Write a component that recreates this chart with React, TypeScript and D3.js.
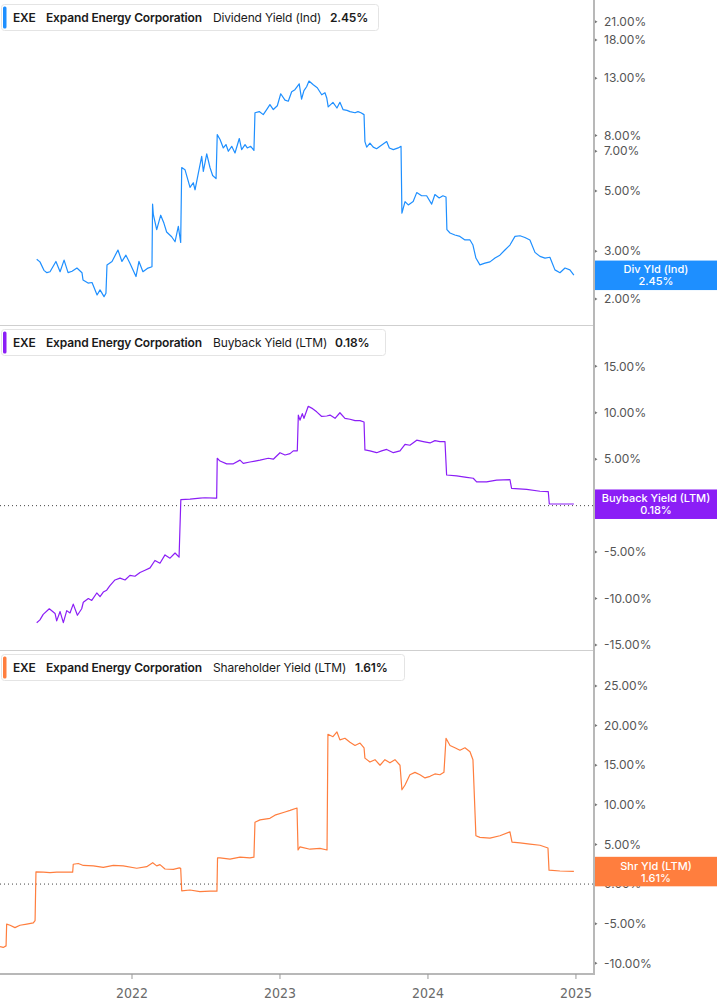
import React from 'react';
import * as d3 from 'd3';

// ---------- data (decimal year, percent) ----------
const yearTicks = [2022, 2023, 2024, 2025];
const divTicks = [2, 3, 5, 7, 8, 13, 18, 21];
const buyTicks = [-15, -10, -5, 0, 5, 10, 15];
const shrTicks = [-10, -5, 0, 5, 10, 15, 20, 25];

const divYield: [number, number][] = [
  [2021.356, 2.8], [2021.378, 2.74], [2021.405, 2.55], [2021.425, 2.5], [2021.446, 2.52],
  [2021.486, 2.75], [2021.514, 2.52], [2021.541, 2.78], [2021.568, 2.5], [2021.595, 2.53],
  [2021.628, 2.6], [2021.662, 2.5], [2021.669, 2.35], [2021.703, 2.29], [2021.73, 2.3],
  [2021.764, 2.07], [2021.784, 2.16], [2021.811, 2.04], [2021.824, 2.1], [2021.831, 2.67],
  [2021.865, 2.75], [2021.905, 3.03], [2021.932, 2.75], [2021.959, 2.9], [2021.986, 2.71],
  [2022.027, 2.42], [2022.047, 2.75], [2022.074, 2.52], [2022.108, 2.6], [2022.135, 2.63],
  [2022.139, 4.47], [2022.144, 4.1], [2022.167, 3.6], [2022.194, 4.07], [2022.216, 3.8],
  [2022.234, 3.53], [2022.268, 3.39], [2022.291, 3.25], [2022.313, 3.7], [2022.329, 3.23],
  [2022.336, 6.1], [2022.358, 5.99], [2022.392, 5.15], [2022.414, 5.36], [2022.426, 5.05],
  [2022.448, 5.8], [2022.471, 6.7], [2022.482, 5.9], [2022.505, 6.85], [2022.527, 6.1],
  [2022.545, 5.7], [2022.568, 5.55], [2022.576, 8.06], [2022.595, 7.73], [2022.617, 7.2],
  [2022.635, 7.41], [2022.651, 7.0], [2022.674, 7.3], [2022.696, 6.9], [2022.725, 7.8],
  [2022.741, 7.1], [2022.764, 7.4], [2022.779, 7.2], [2022.802, 7.3], [2022.824, 7.05],
  [2022.831, 9.7], [2022.86, 9.8], [2022.887, 9.55], [2022.91, 9.97], [2022.932, 10.4],
  [2022.955, 9.97], [2022.982, 10.3], [2023.005, 11.4], [2023.034, 10.8], [2023.056, 10.7],
  [2023.079, 11.6], [2023.101, 11.8], [2023.13, 12.4], [2023.146, 10.9], [2023.162, 11.7],
  [2023.18, 12.1], [2023.196, 12.7], [2023.225, 12.3], [2023.252, 12.0], [2023.282, 11.3],
  [2023.304, 11.5], [2023.316, 11.0], [2023.326, 10.2], [2023.358, 10.6], [2023.385, 10.1],
  [2023.405, 10.6], [2023.426, 9.97], [2023.453, 9.9], [2023.473, 9.8], [2023.507, 9.7],
  [2023.527, 9.8], [2023.547, 9.7], [2023.568, 9.55], [2023.574, 7.6], [2023.586, 7.25],
  [2023.608, 7.5], [2023.63, 7.25], [2023.653, 7.15], [2023.676, 7.3], [2023.721, 7.6],
  [2023.739, 7.2], [2023.766, 7.1], [2023.799, 7.2], [2023.818, 7.3], [2023.824, 4.14],
  [2023.845, 4.57], [2023.867, 4.44], [2023.9, 4.57], [2023.924, 4.93], [2023.957, 4.8],
  [2023.991, 4.8], [2024.025, 4.47], [2024.047, 4.85], [2024.076, 4.71], [2024.101, 4.8],
  [2024.122, 4.75], [2024.128, 3.6], [2024.149, 3.5], [2024.182, 3.44], [2024.216, 3.4],
  [2024.25, 3.3], [2024.284, 3.3], [2024.304, 3.16], [2024.324, 2.83], [2024.351, 2.67],
  [2024.385, 2.71], [2024.419, 2.74], [2024.453, 2.83], [2024.486, 2.9], [2024.52, 3.03],
  [2024.554, 3.16], [2024.588, 3.4], [2024.622, 3.42], [2024.655, 3.37], [2024.689, 3.3],
  [2024.723, 2.97], [2024.757, 2.87], [2024.791, 2.83], [2024.824, 2.85], [2024.858, 2.56],
  [2024.892, 2.5], [2024.926, 2.6], [2024.959, 2.56], [2024.986, 2.45],
];

const buybackYield: [number, number][] = [
  [2021.356, -12.6], [2021.378, -12.3], [2021.4, -11.7], [2021.441, -11.1], [2021.464, -11.4],
  [2021.48, -11.6], [2021.491, -12.4], [2021.514, -11.4], [2021.536, -12.6], [2021.559, -11.3],
  [2021.581, -11.55], [2021.603, -10.6], [2021.631, -11.8], [2021.66, -11.1], [2021.671, -10.4],
  [2021.705, -10.0], [2021.728, -10.2], [2021.762, -9.4], [2021.784, -9.8], [2021.806, -9.3],
  [2021.829, -9.1], [2021.851, -8.6], [2021.885, -8.0], [2021.919, -7.8], [2021.953, -8.0],
  [2021.986, -7.5], [2022.02, -7.6], [2022.054, -7.2], [2022.088, -6.95], [2022.122, -6.7],
  [2022.155, -5.9], [2022.189, -6.2], [2022.223, -5.3], [2022.257, -5.65], [2022.291, -5.1],
  [2022.318, -5.55], [2022.33, 0.65], [2022.392, 0.7], [2022.459, 0.8], [2022.493, 0.85],
  [2022.561, 0.8], [2022.572, 0.8], [2022.576, 5.1], [2022.595, 4.8], [2022.64, 4.5],
  [2022.685, 4.5], [2022.73, 4.9], [2022.752, 4.55], [2022.797, 4.7], [2022.831, 4.8],
  [2022.865, 4.9], [2022.921, 5.1], [2022.955, 5.0], [2023.0, 5.7], [2023.034, 5.45],
  [2023.068, 5.6], [2023.09, 5.9], [2023.117, 5.9], [2023.124, 9.75], [2023.135, 9.2],
  [2023.151, 9.9], [2023.162, 9.4], [2023.191, 10.7], [2023.214, 10.5], [2023.248, 10.1],
  [2023.282, 9.6], [2023.316, 9.65], [2023.338, 9.75], [2023.372, 9.4], [2023.405, 10.0],
  [2023.439, 9.4], [2023.473, 9.3], [2023.507, 9.15], [2023.541, 9.15], [2023.568, 9.0],
  [2023.574, 6.0], [2023.608, 5.9], [2023.653, 5.7], [2023.687, 5.9], [2023.721, 6.05],
  [2023.766, 5.7], [2023.811, 5.9], [2023.845, 6.6], [2023.878, 6.5], [2023.924, 7.05],
  [2023.968, 6.9], [2024.014, 6.75], [2024.047, 7.0], [2024.081, 6.9], [2024.115, 6.9],
  [2024.126, 3.3], [2024.194, 3.2], [2024.261, 3.05], [2024.306, 2.95], [2024.329, 2.55],
  [2024.396, 2.55], [2024.464, 2.75], [2024.554, 2.8], [2024.565, 1.85], [2024.667, 1.75],
  [2024.757, 1.55], [2024.813, 1.5], [2024.82, 0.18], [2024.986, 0.18],
];

const shareholderYield: [number, number][] = [
  [2021.108, -7.9], [2021.13, -8.0], [2021.149, -7.8], [2021.153, -5.05], [2021.176, -5.2],
  [2021.209, -5.5], [2021.243, -5.2], [2021.289, -5.05], [2021.333, -4.9], [2021.345, -4.6],
  [2021.351, 1.55], [2021.401, 1.5], [2021.446, 1.45], [2021.491, 1.5], [2021.536, 1.5],
  [2021.581, 1.5], [2021.599, 1.5], [2021.603, 2.5], [2021.637, 2.6], [2021.671, 2.35],
  [2021.739, 2.3], [2021.806, 2.1], [2021.874, 2.35], [2021.941, 2.3], [2022.032, 2.0],
  [2022.099, 2.2], [2022.14, 2.7], [2022.167, 2.3], [2022.189, 2.45], [2022.223, 1.9],
  [2022.279, 1.85], [2022.32, 2.05], [2022.329, 2.0], [2022.336, -0.85], [2022.392, -0.75],
  [2022.459, -0.95], [2022.527, -0.9], [2022.574, -0.9], [2022.578, 3.3], [2022.595, 3.3],
  [2022.662, 3.15], [2022.73, 3.4], [2022.797, 3.3], [2022.824, 3.4], [2022.831, 7.8],
  [2022.865, 8.1], [2022.932, 8.3], [2022.966, 8.7], [2023.034, 9.1], [2023.068, 9.3],
  [2023.115, 9.6], [2023.122, 4.3], [2023.135, 4.7], [2023.203, 4.4], [2023.27, 4.5],
  [2023.318, 4.3], [2023.324, 18.9], [2023.358, 18.6], [2023.385, 19.2], [2023.405, 18.2],
  [2023.439, 18.4], [2023.473, 17.9], [2023.507, 17.5], [2023.541, 17.8], [2023.568, 17.2],
  [2023.574, 15.9], [2023.608, 15.4], [2023.642, 15.7], [2023.676, 15.0], [2023.709, 15.7],
  [2023.743, 15.3], [2023.777, 15.7], [2023.811, 15.0], [2023.824, 11.9], [2023.845, 12.5],
  [2023.878, 13.8], [2023.912, 14.1], [2023.946, 13.8], [2023.98, 13.4], [2024.014, 13.6],
  [2024.047, 13.9], [2024.081, 13.8], [2024.108, 14.1], [2024.122, 18.4], [2024.149, 17.5],
  [2024.182, 17.2], [2024.216, 16.9], [2024.25, 17.2], [2024.284, 16.7], [2024.304, 15.7],
  [2024.324, 6.1], [2024.351, 5.9], [2024.419, 5.8], [2024.486, 6.1], [2024.554, 6.6],
  [2024.568, 5.3], [2024.622, 5.2], [2024.689, 5.05], [2024.757, 4.9], [2024.811, 4.55],
  [2024.818, 1.75], [2024.892, 1.65], [2024.986, 1.61],
];

// ---------- layout ----------
const W = 717;
const H = 1005;
const AXIS_X = 594;
const AXIS_Y = 974;
const GRAY_TEXT = '#555';

const x = d3.scaleLinear().domain([2021.108, 2025.122]).range([0, AXIS_X]);

type PanelDef = {
  top: number;
  color: string;
  scale: (v: number) => number;
  ticks: number[];
  data: [number, number][];
  seriesName: string;
  value: string;
  short: string;
  legendW: number;
  valueX: number;
  zeroLine: boolean;
};

const panels: PanelDef[] = [
  {
    top: 0,
    color: '#1E8FFF',
    scale: d3.scaleLog().domain([2, 21]).range([299, 21.7]),
    ticks: divTicks,
    data: divYield,
    seriesName: 'Dividend Yield (Ind)',
    value: '2.45%',
    short: 'Div Yld (Ind)',
    legendW: 377,
    valueX: 330,
    zeroLine: false,
  },
  {
    top: 325,
    color: '#8B1EF6',
    scale: d3.scaleLinear().domain([-15, 15]).range([645, 366.3]),
    ticks: buyTicks,
    data: buybackYield,
    seriesName: 'Buyback Yield (LTM)',
    value: '0.18%',
    short: 'Buyback Yield (LTM)',
    legendW: 384,
    valueX: 335,
    zeroLine: true,
  },
  {
    top: 650,
    color: '#FF7E3E',
    scale: d3.scaleLinear().domain([-10, 25]).range([963.3, 686]),
    ticks: shrTicks,
    data: shareholderYield,
    seriesName: 'Shareholder Yield (LTM)',
    value: '1.61%',
    short: 'Shr Yld (LTM)',
    legendW: 403,
    valueX: 355,
    zeroLine: true,
  },
];

const fmtPct = (v: number) => `${v.toFixed(2)}%`;

function Panel({ p }: { p: PanelDef }) {
  const line = d3
    .line<[number, number]>()
    .x((d) => x(d[0]))
    .y((d) => p.scale(d[1]));
  const last = p.data[p.data.length - 1];
  const ly = p.scale(last[1]);
  const lt = p.top + 4.5;
  return (
    <g>
      {p.zeroLine && (
        <line x1={0} x2={AXIS_X} y1={p.scale(0)} y2={p.scale(0)} stroke="#444" strokeWidth={1} strokeDasharray="1,3" />
      )}
      <path d={line(p.data) || ''} fill="none" stroke={p.color} strokeWidth={1.2} strokeLinejoin="round" />
      {p.ticks.map((t) => (
        <g key={t}>
          <path d={`M${AXIS_X + 1},${p.scale(t) - 1.5}L${AXIS_X + 3.5},${p.scale(t)}L${AXIS_X + 1},${p.scale(t) + 1.5}Z`} fill="#777" />
          <text x={604} y={p.scale(t)} dy="0.35em" fontSize={12} fill={GRAY_TEXT}>
            {fmtPct(t)}
          </text>
        </g>
      ))}
      {/* end label */}
      <rect x={AXIS_X + 1} y={ly - 14.5} width={W - AXIS_X - 1} height={29.5} fill={p.color} />
      <text x={656} y={ly - 5.5} dy="0.35em" textAnchor="middle" fontSize={11} fontWeight={500} fill="#fff">
        {p.short}
      </text>
      <text x={656} y={ly + 6.5} dy="0.35em" textAnchor="middle" fontSize={11} fontWeight={500} fill="#fff">
        {p.value}
      </text>
      {/* legend */}
      <rect x={1.5} y={lt} width={p.legendW} height={26} rx={3} fill="#fff" stroke="#e4e4e4" />
      <rect x={3} y={lt + 2} width={3.5} height={22} rx={1.5} fill={p.color} />
      <text y={lt + 13} dy="0.35em" fontSize={12} fill="#1a1a1a" letterSpacing={-0.15}>
        <tspan x={13} fontWeight={600}>EXE</tspan>
        <tspan x={46} fontWeight={600}>Expand Energy Corporation</tspan>
        <tspan x={213} fontWeight={400}>{p.seriesName}</tspan>
        <tspan x={p.valueX} fontWeight={600}>{p.value}</tspan>
      </text>
    </g>
  );
}

export default function App() {
  return (
    <svg
      width={W}
      height={H}
      style={{ position: 'absolute', left: 0, top: 0, background: '#fff' }}
      fontFamily="Inter, 'Noto Sans', sans-serif"
    >
      <rect width={W} height={H} fill="#fff" />
      {/* panel separators */}
      <line x1={0} x2={AXIS_X} y1={325.5} y2={325.5} stroke="#cfcfcf" />
      <line x1={0} x2={AXIS_X} y1={650.5} y2={650.5} stroke="#cfcfcf" />
      {panels.map((p) => (
        <Panel key={p.top} p={p} />
      ))}
      {/* axes */}
      <line x1={AXIS_X} x2={AXIS_X} y1={0} y2={AXIS_Y + 1} stroke="#b8b8b8" strokeWidth={2} />
      <line x1={0} x2={AXIS_X + 1} y1={AXIS_Y} y2={AXIS_Y} stroke="#b8b8b8" strokeWidth={2} />
      {yearTicks.map((yr) => (
        <g key={yr}>
          <line x1={x(yr)} x2={x(yr)} y1={AXIS_Y} y2={AXIS_Y + 5} stroke="#999" />
          <text
            x={x(yr)}
            y={993}
            dy="0.35em"
            textAnchor="middle"
            fontSize={14}
            fill="#6a6a6a"
            fontFamily="'Liberation Sans Narrow', 'DejaVu Sans Condensed', sans-serif"
            style={{ fontStretch: 'condensed' }}
          >
            {yr}
          </text>
        </g>
      ))}
    </svg>
  );
}
